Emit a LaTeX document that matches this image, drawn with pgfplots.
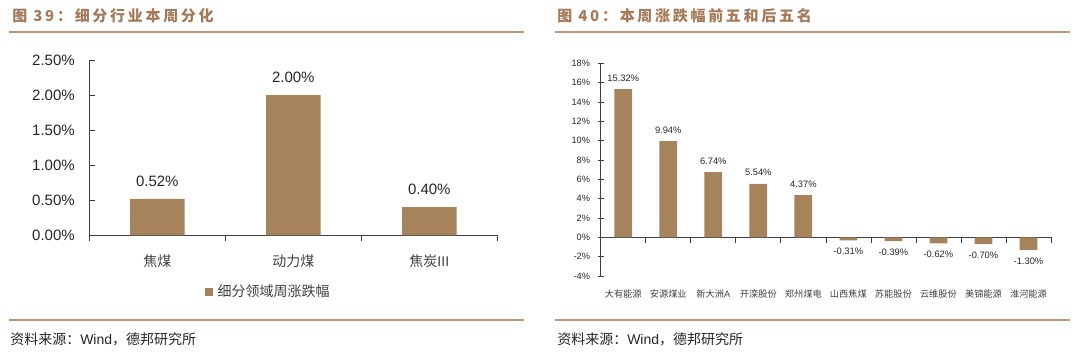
\documentclass[border=0pt]{standalone}
\usepackage{pgfplots}
\pgfplotsset{compat=1.18}
\usepackage{fontspec}
\setmainfont{Liberation Sans}
\newfontfamily\cjk{Noto Sans CJK SC}
\newfontfamily\cjkt{Noto Sans CJK SC}[LetterSpace=18]
\definecolor{barc}{HTML}{A6835A}
\definecolor{titlec}{HTML}{A47A59}
\definecolor{rulec}{HTML}{C0977A}
\definecolor{axc}{HTML}{404040}
\definecolor{txtc}{HTML}{262626}
\newcommand{\zh}[1]{{\cjk #1}}
\pgfplotsset{/pgf/number format/assume math mode=true}
\begin{document}
\begin{tikzpicture}[x=0.75pt,y=-0.75pt]
\path[use as bounding box] (0,0) rectangle (1080,356);
% titles
\node[anchor=west, inner sep=0pt, text=titlec, font=\cjkt\bfseries\fontsize{11.25pt}{13pt}\selectfont] at (12,16) {图 39：细分行业本周分化};
\node[anchor=west, inner sep=0pt, text=titlec, font=\cjkt\bfseries\fontsize{11.25pt}{13pt}\selectfont] at (557,16) {图 40：本周涨跌幅前五和后五名};
% rules
\draw[rulec, line width=1.5pt] (9,32.3) -- (524,32.3);
\draw[rulec, line width=1.5pt] (555,32.3) -- (1070,32.3);
\draw[rulec, line width=1.5pt] (9,320) -- (524,320);
\draw[rulec, line width=1.5pt] (555,320) -- (1070,320);
% sources
\node[anchor=west, inner sep=0pt, text=txtc, font=\fontsize{10.5pt}{12pt}\selectfont] at (10,339) {\zh{资料来源：}Wind\zh{，德邦研究所}};
\node[anchor=west, inner sep=0pt, text=txtc, font=\fontsize{10.5pt}{12pt}\selectfont] at (557,339) {\zh{资料来源：}Wind\zh{，德邦研究所}};

% left chart
\begin{axis}[
  at={(89.3*0.75pt,-235.3*0.75pt)}, anchor=south west,
  scale only axis, width=306pt, height=131.5pt,
  xmin=-0.5, xmax=2.5, ymin=0, ymax=2.5,
  axis x line*=bottom, axis y line*=left,
  axis line style={axc, line width=0.75pt},
  ytick={0,0.5,1,1.5,2,2.5},
  yticklabels={0.00\%,0.50\%,1.00\%,1.50\%,2.00\%,2.50\%},
  xtick={0,1,2},
  xticklabels={\zh{焦煤},\zh{动力煤},\zh{焦炭}III},
  minor xtick={-0.5,0.5,1.5,2.5},
  tick align=inside,
  major x tick style={draw=none},
  tick style={axc, line width=0.6pt},
  major tick length=4pt, minor tick length=4pt,
  yticklabel style={font=\fontsize{11.25pt}{13pt}\selectfont, text=txtc, inner sep=0pt, anchor=east, xshift=-10.7pt},
  xticklabel style={font=\fontsize{10.5pt}{12pt}\selectfont, text=axc, inner sep=0pt, anchor=center, yshift=-15.3pt},
  ybar, bar width=40.9pt,
  nodes near coords={\pgfmathprintnumber[fixed,fixed zerofill,precision=2]{\pgfplotspointmeta}\%},
  nodes near coords style={font=\fontsize{11.25pt}{13pt}\selectfont, text=txtc, inner xsep=0pt, inner ysep=9pt},
  legend style={at={(0.2836,-0.3234)}, anchor=west, draw=none, fill=none, inner sep=0pt,
    font=\fontsize{10.5pt}{12pt}\selectfont, text=axc, nodes={inner sep=0pt},
    /tikz/every odd column/.append style={column sep=3.75pt}},
  legend image code/.code={\fill[barc] (0pt,-2.75pt) rectangle (5.5pt,2.75pt);},
]
\addplot[fill=barc, draw=none] coordinates {(0,0.52) (1,2.00) (2,0.40)};
\addlegendentry{\zh{细分领域周涨跌幅}}
\end{axis}

% right chart
\begin{axis}[
  at={(600.7*0.75pt,-276*0.75pt)}, anchor=south west,
  scale only axis, width=337.7pt, height=159.5pt,
  xmin=-0.5, xmax=9.5, ymin=-4, ymax=18,
  axis x line*=middle, axis y line*=left,
  axis line style={axc, line width=0.6pt},
  ytick={-4,-2,0,2,4,6,8,10,12,14,16,18},
  yticklabels={-4\%,-2\%,0\%,2\%,4\%,6\%,8\%,10\%,12\%,14\%,16\%,18\%},
  xtick={0,1,2,3,4,5,6,7,8,9},
  xticklabels={\zh{大有能源},\zh{安源煤业},\zh{新大洲}A,\zh{开滦股份},\zh{郑州煤电},\zh{山西焦煤},\zh{苏能股份},\zh{云维股份},\zh{美锦能源},\zh{淮河能源}},
  minor xtick={-0.5,0.5,1.5,2.5,3.5,4.5,5.5,6.5,7.5,8.5,9.5},
  tick align=center,
  major x tick style={draw=none},
  tick style={axc, line width=0.5pt},
  major tick length=4.5pt, minor tick length=4.5pt,
  yticklabel style={font=\fontsize{6.9pt}{8pt}\selectfont, text=txtc, inner sep=0pt, anchor=east, xshift=-5.55pt},
  xticklabel style={font=\fontsize{6.9pt}{8pt}\selectfont, text=axc, inner sep=0pt, anchor=center, yshift=-37.95pt},
  ybar, bar width=13.3pt,
  nodes near coords={\pgfmathprintnumber[fixed,fixed zerofill,precision=2]{\pgfplotspointmeta}\%},
  nodes near coords style={font=\fontsize{7pt}{8pt}\selectfont, text=txtc, inner xsep=0pt, inner ysep=5.6pt},
]
\addplot[fill=barc, draw=none] coordinates {(0,15.32) (1,9.94) (2,6.74) (3,5.54) (4,4.37) (5,-0.31) (6,-0.39) (7,-0.62) (8,-0.70) (9,-1.30)};
\end{axis}
\end{tikzpicture}
\end{document}
